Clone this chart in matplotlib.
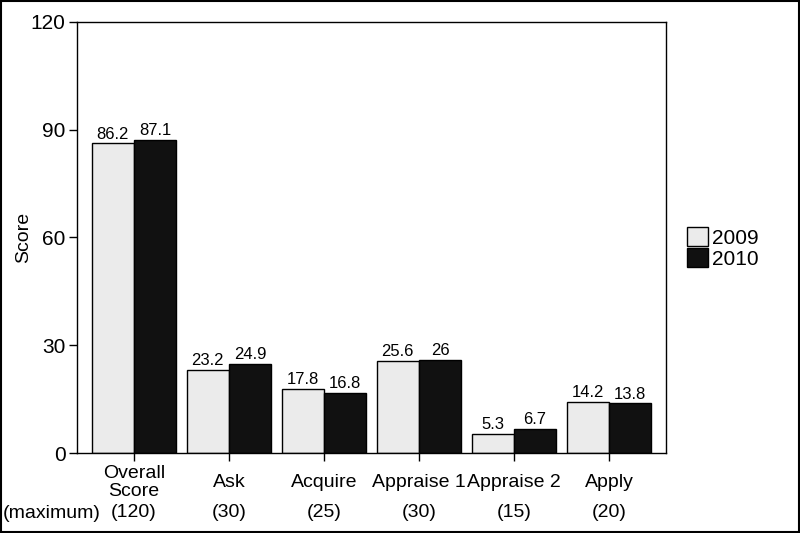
import matplotlib
matplotlib.use("Agg")
import matplotlib.pyplot as plt
from matplotlib.patches import Rectangle
import numpy as np

plt.rcParams['font.family'] = ['Liberation Sans', 'DejaVu Sans']

categories = ["Overall\nScore", "Ask", "Acquire", "Appraise 1", "Appraise 2", "Apply"]
maximums = ["(120)", "(30)", "(25)", "(30)", "(15)", "(20)"]
scores_2009 = [86.2, 23.2, 17.8, 25.6, 5.3, 14.2]
scores_2010 = [87.1, 24.9, 16.8, 26, 6.7, 13.8]
labels_2009 = ["86.2", "23.2", "17.8", "25.6", "5.3", "14.2"]
labels_2010 = ["87.1", "24.9", "16.8", "26", "6.7", "13.8"]

fig = plt.figure(figsize=(8, 5.33), dpi=100)
ax = fig.add_axes([0.096, 0.150, 0.7365, 0.809])

x = np.arange(len(categories))
w = 0.445
b1 = ax.bar(x - w / 2, scores_2009, w, color="#ebebeb", edgecolor="black", linewidth=1, label="2009")
b2 = ax.bar(x + w / 2, scores_2010, w, color="#111111", edgecolor="black", linewidth=1, label="2010")

for bars, labs in ((b1, labels_2009), (b2, labels_2010)):
    for r, t in zip(bars, labs):
        ax.text(r.get_x() + r.get_width() / 2, r.get_height() + 0.5, t,
                ha="center", va="bottom", fontsize=12)

ax.set_xlim(-0.6, 5.6)
ax.set_ylim(0, 120)
ax.set_yticks([0, 30, 60, 90, 120])
ax.set_xticks(x)
ax.set_xticklabels(categories, fontsize=14, linespacing=1.05, va="center")
ax.tick_params(axis="x", length=6, width=1, pad=15)
ax.tick_params(axis="y", labelsize=15, length=6, width=1, pad=2)
ax.set_ylabel("Score", fontsize=14)
ax.yaxis.set_label_coords(-0.076, 0.5)
for s in ax.spines.values():
    s.set_linewidth(1)

# maximum row under the categories
for xi, m in zip(x, maximums):
    ax.text(xi, -0.139, m, transform=ax.get_xaxis_transform(), ha="center", va="center", fontsize=14)
fig.text(0.004, 1 - 513 / 533, "(maximum)", ha="left", va="center", fontsize=14)

fig.legend(handles=[b1, b2], labels=["2009", "2010"], loc="center left",
           bbox_to_anchor=(0.835, 0.535), frameon=False, fontsize=15,
           handlelength=1.0, handleheight=1.05, labelspacing=0.0, handletextpad=0.2)

# outer frame around the whole figure
fig.patches.append(Rectangle((0.001, 0.001), 0.998, 0.997, transform=fig.transFigure,
                             fill=False, edgecolor="black", linewidth=1.5))

fig.savefig("out.png", dpi=100)
